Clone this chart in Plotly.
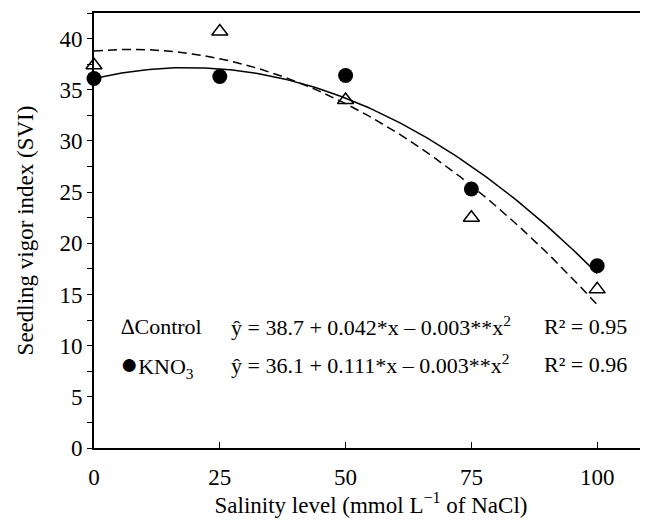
import numpy as np
import plotly.graph_objects as go

# Data
salinity = [0, 25, 50, 75, 100]
control = [37.4, 40.7, 34.0, 22.5, 15.5]
kno3 = [36.1, 36.3, 36.4, 25.3, 17.8]

x_ticks = [0, 25, 50, 75, 100]
y_ticks = [0, 5, 10, 15, 20, 25, 30, 35, 40]

eq_control = "ŷ = 38.7 + 0.042*x – 0.003**x<sup>2</sup>"
eq_kno3 = "ŷ = 36.1 + 0.111*x – 0.003**x<sup>2</sup>"
r2_control = "R² = 0.95"
r2_kno3 = "R² = 0.96"

FONT = "Liberation Serif, Times New Roman, serif"

# quadratic trend lines fitted to the data
xs = np.linspace(0, 100, 201)
fit_c = np.polyval(np.polyfit(salinity, control, 2), xs)
fit_k = np.polyval(np.polyfit(salinity, kno3, 2), xs)

fig = go.Figure()
fig.add_trace(go.Scatter(x=xs, y=fit_c, mode="lines",
                         line=dict(color="black", width=1.5, dash="9px,5px"),
                         showlegend=False, cliponaxis=False))
fig.add_trace(go.Scatter(x=xs, y=fit_k, mode="lines",
                         line=dict(color="black", width=1.5),
                         showlegend=False, cliponaxis=False))
fig.add_trace(go.Scatter(x=salinity, y=control, mode="markers",
                         marker=dict(symbol="triangle-up-open", size=14,
                                     color="black", line=dict(width=1.5)),
                         showlegend=False, cliponaxis=False))
fig.add_trace(go.Scatter(x=salinity, y=kno3, mode="markers",
                         marker=dict(symbol="circle", size=15, color="black"),
                         showlegend=False, cliponaxis=False))

font = dict(family=FONT, size=22, color="black")
tfont = dict(family=FONT, size=23, color="black")
ann = []
ann.append(dict(x=5.0, y=11.9, xref="x", yref="y", xanchor="left", yanchor="middle",
                text="∆Control", showarrow=False, font=font))
ann.append(dict(x=4.7, y=8.2, xref="x", yref="y", xanchor="left", yanchor="middle",
                text="<span style='font-size:30px'>●</span>KNO<sub>3</sub>",
                showarrow=False, font=font))
ann.append(dict(x=26.8, y=11.9, xref="x", yref="y", xanchor="left", yanchor="middle",
                text=eq_control, showarrow=False, font=font))
ann.append(dict(x=26.8, y=8.2, xref="x", yref="y", xanchor="left", yanchor="middle",
                text=eq_kno3, showarrow=False, font=font))
ann.append(dict(x=89.0, y=11.9, xref="x", yref="y", xanchor="left", yanchor="middle",
                text=r2_control, showarrow=False, font=font))
ann.append(dict(x=89.0, y=8.2, xref="x", yref="y", xanchor="left", yanchor="middle",
                text=r2_kno3, showarrow=False, font=font))

fig.update_layout(
    width=640, height=510,
    margin=dict(l=86, r=0, t=5, b=70),
    paper_bgcolor="white", plot_bgcolor="white",
    font=font,
    annotations=ann,
    xaxis=dict(range=[0, 110.1], tickvals=x_ticks, ticks="inside", ticklen=6,
               tickwidth=1.2, tickcolor="black", showline=True, linecolor="black",
               linewidth=2, mirror=True, showgrid=False, zeroline=False,
               tickfont=tfont, ticklabelstandoff=7,
               title=dict(text="Salinity level (mmol L<sup>−1</sup> of NaCl)",
                          font=tfont, standoff=10)),
    yaxis=dict(range=[0, 42.5], tickvals=y_ticks, ticks="outside", ticklen=5,
               tickwidth=1.2, tickcolor="black", showline=True, linecolor="black",
               linewidth=2, showgrid=False, zeroline=False,
               minor=dict(dtick=2.5, tick0=0, ticks="outside", ticklen=5,
                          tickwidth=1.2, tickcolor="black", showgrid=False),
               tickfont=tfont,
               title=dict(text="Seedling vigor index (SVI)",
                          font=tfont, standoff=19)),
)

fig.write_html("out.html")
